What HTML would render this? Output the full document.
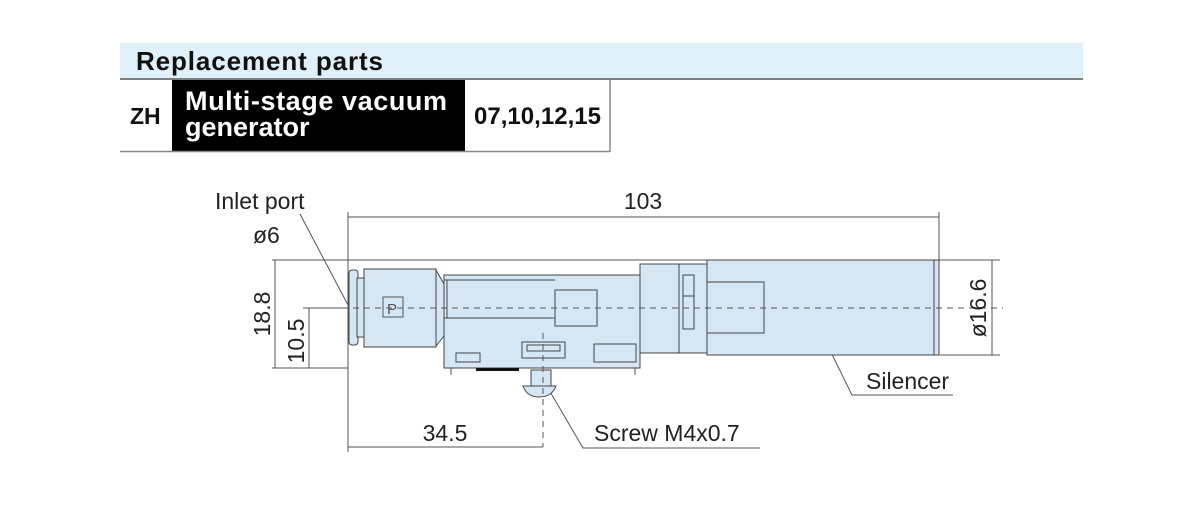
<!DOCTYPE html>
<html><head><meta charset="utf-8"><style>
body{margin:0;width:1200px;height:500px;background:#fff;overflow:hidden;font-family:"Liberation Sans",Arial,sans-serif}
</style></head><body>
<svg width="1200" height="500" viewBox="0 0 1200 500" xmlns="http://www.w3.org/2000/svg" font-family="Liberation Sans, Arial, sans-serif">
<!-- header -->
<rect x="120" y="43" width="963" height="35" fill="#dff0fa"/>
<text x="136" y="70" font-size="26" font-weight="bold" fill="#111" textLength="247">Replacement parts</text>
<line x1="120" y1="79" x2="1083" y2="79" stroke="#555" stroke-width="1.5"/>
<rect x="172" y="80" width="293" height="71" fill="#000"/>
<text x="130" y="124" font-size="23" font-weight="bold" fill="#111">ZH</text>
<text x="185" y="110" font-size="27" font-weight="bold" fill="#fff" textLength="262">Multi-stage vacuum</text>
<text x="185" y="136" font-size="27" font-weight="bold" fill="#fff">generator</text>
<text x="474" y="124" font-size="24" font-weight="bold" fill="#111" textLength="127">07,10,12,15</text>
<line x1="610" y1="80" x2="610" y2="152" stroke="#888" stroke-width="1.5"/>
<line x1="120" y1="151.5" x2="610" y2="151.5" stroke="#888" stroke-width="1.5"/>

<g stroke="#555" stroke-width="1" fill="none">
<line x1="348" y1="217" x2="939" y2="217"/>
<line x1="348" y1="212" x2="348" y2="452"/>
<line x1="939" y1="212" x2="939" y2="260"/>
<line x1="272" y1="260" x2="1000" y2="260"/>
<line x1="272" y1="368" x2="348" y2="368"/>
<line x1="275" y1="260" x2="275" y2="368"/>
<line x1="309" y1="308" x2="309" y2="368"/>
<line x1="303" y1="308" x2="348" y2="308"/>
<line x1="940" y1="355" x2="1000" y2="355"/>
<line x1="992" y1="260" x2="992" y2="355"/>
<line x1="348" y1="447" x2="543" y2="447"/>
<polyline points="300,214 348,305"/>
<polyline points="820,330 852,395 953,395"/>
<polyline points="545,383 583,448 760,448"/>
</g>

<g stroke="#444" stroke-width="1" fill="#d5e7f5">
<rect x="707" y="260" width="228" height="95"/>
<rect x="934" y="260" width="5" height="95"/>
<rect x="707" y="282" width="57" height="51"/>
<rect x="640" y="264" width="67" height="89"/>
<line x1="679" y1="264" x2="679" y2="353"/>
<rect x="683" y="275" width="11" height="54"/>
<line x1="683" y1="296" x2="694" y2="296"/>
<rect x="444" y="275" width="196" height="93"/>
<line x1="444" y1="318" x2="555" y2="318"/>
<line x1="447" y1="280" x2="447" y2="318"/>
<line x1="444" y1="280" x2="555" y2="280"/>
<rect x="555" y="290" width="42" height="36"/>
<rect x="456" y="353" width="24" height="9"/>
<rect x="594" y="344" width="42" height="18"/>
<polygon points="436,270 444,284 444,336 436,346"/>
<rect x="364" y="269" width="72" height="78"/>
<rect x="349" y="270" width="9" height="75" rx="3"/>
<rect x="357" y="278" width="7" height="59"/>
<rect x="531" y="370" width="20" height="16"/>
<path d="M523,386 L556,386 Q552,397 539,397 Q527,397 523,386Z"/>
<rect x="522" y="342" width="43" height="16"/>
<rect x="527" y="345" width="33" height="6"/>
</g>
<rect x="476" y="368" width="43" height="3" fill="#111"/>
<line x1="451" y1="368" x2="451" y2="375" stroke="#555"/>
<line x1="635" y1="368" x2="635" y2="375" stroke="#555"/>
<rect x="383" y="297" width="20" height="20" fill="none" stroke="#555"/>
<text x="387" y="314" font-size="15" fill="#555">P</text>
<line x1="320" y1="308" x2="1003" y2="308" stroke="#555" stroke-dasharray="6,5"/>
<line x1="543" y1="333" x2="543" y2="447" stroke="#555" stroke-dasharray="6,5"/>

<g font-size="23" fill="#222">
<text x="643" y="209" text-anchor="middle">103</text>
<text x="215" y="209">Inlet port</text>
<text x="253" y="243">ø6</text>
<text x="0" y="0" transform="translate(270,314) rotate(-90)" text-anchor="middle">18.8</text>
<text x="0" y="0" transform="translate(304,341) rotate(-90)" text-anchor="middle">10.5</text>
<text x="0" y="0" transform="translate(986,308) rotate(-90)" text-anchor="middle">ø16.6</text>
<text x="866" y="389">Silencer</text>
<text x="594" y="441">Screw M4x0.7</text>
<text x="445" y="441" text-anchor="middle">34.5</text>
</g>
</svg>
</body></html>
